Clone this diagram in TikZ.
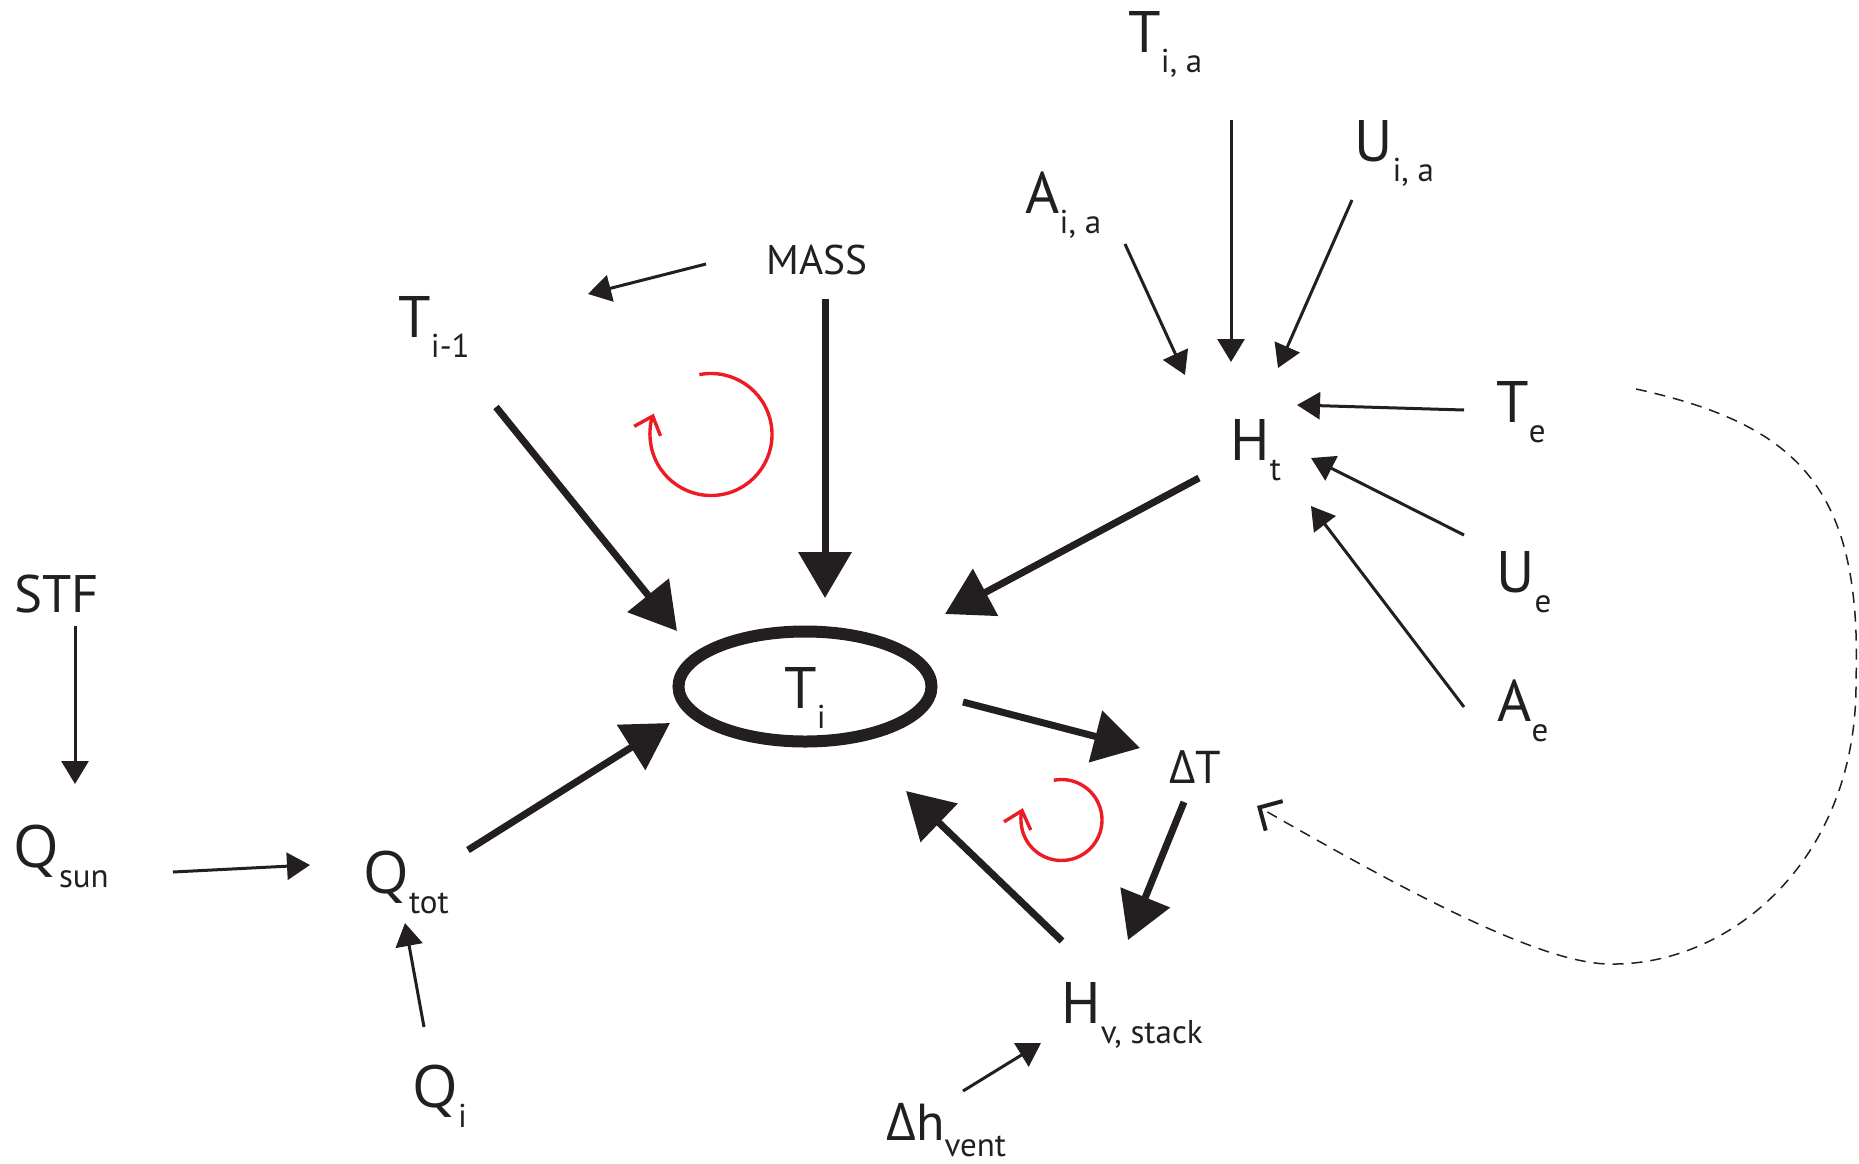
\documentclass[tikz,border=0pt]{standalone}
\usepackage{fontspec}
\setmainfont{PT Sans}
\newfontfamily\grk{Open Sans}
\usetikzlibrary{arrows.meta,shapes.geometric}
\definecolor{ink}{HTML}{231F20}
\definecolor{loopred}{HTML}{ED1C24}
\newcommand{\lb}[2]{{\fontsize{29.3pt}{30pt}\selectfont #1}\raisebox{-10pt}{\fontsize{16.5pt}{17pt}\selectfont #2}}
\newcommand{\qq}{{\grk Q}}
\begin{document}
\begin{tikzpicture}[x=0.5pt,y=-0.5pt,
  lbl/.style={inner sep=0pt, anchor=base west, text=ink},
  thickarrow/.style={color=ink, line width=3.5pt, -{Triangle[length=23pt,width=26pt]}},
  thinarrow/.style={color=ink, line width=1.5pt, -{Triangle[length=11.5pt,width=13.5pt]}},
  fbarrow/.style={color=ink, line width=0.75pt, dash pattern=on 5.5pt off 4pt, -{Straight Barb[length=8.5pt,width=17pt,line width=2pt]}},
  loopring/.style={color=loopred, line width=1.7pt, -{Straight Barb[length=8pt,width=14pt]}},
  tiring/.style={ellipse, draw=ink, line width=6pt, minimum width=126.5pt, minimum height=55pt, inner sep=0pt, text height=21.5pt, text depth=0pt, text=ink}
]
\useasboundingbox (0,0) rectangle (1859,1163);

% labels
\node[lbl] (Tia) at (1128,52) {\lb{T}{i, a}};
\node[lbl] (Uia) at (1354,161) {\lb{U}{i, a}};
\node[lbl] (Aia) at (1025,213) {\lb{A}{i, a}};
\node[lbl] (MASS) at (766,274) {\fontsize{20.7pt}{21pt}\selectfont MASS};
\node[lbl] (Tim1) at (398,337) {\lb{T}{i-1}};
\node[lbl] (Ht) at (1230,460) {\lb{H}{t}};
\node[lbl] (Te) at (1496,422) {\lb{T}{e}};
\node[lbl] (Ue) at (1496,592) {\lb{U}{e}};
\node[lbl] (Ae) at (1497,721) {\lb{A}{e}};
\node[lbl] (STF) at (14,612) {\fontsize{26.4pt}{27pt}\selectfont STF};
\node[tiring] (Ti) at (805,686.5) {\lb{T}{i}};
\node[lbl] (dT) at (1169,783) {\fontsize{23pt}{24pt}\selectfont{\grk Δ}T};
\node[lbl] (Qsun) at (13,867) {\lb{\qq}{sun}};
\node[lbl] (Qtot) at (363,893) {\lb{\qq}{tot}};
\node[lbl] (Qi) at (412,1107) {\lb{\qq}{i}};
\node[lbl] (Hv) at (1061,1023) {\lb{H}{v, stack}};
\node[lbl] (dh) at (886,1140) {{\fontsize{26pt}{27pt}\selectfont{\grk Δ}h}\raisebox{-8pt}{\fontsize{16.5pt}{17pt}\selectfont vent}};

% thick connectors
\draw[thickarrow] ([shift={(98,70)}]Tim1.base west) -- ([shift={(-128,-55.5)}]Ti.center);
\draw[thickarrow] ([shift={(59,25)}]MASS.base west) -- ([shift={(20,-88.5)}]Ti.center);
\draw[thickarrow] ([shift={(-31,18)}]Ht.base west) -- ([shift={(140,-72.5)}]Ti.center);
\draw[thickarrow] ([shift={(105,-43)}]Qtot.base west) -- ([shift={(-135,36.5)}]Ti.center);
\draw[thickarrow] ([shift={(158,15.5)}]Ti.center) -- ([shift={(-29,-35)}]dT.base west);
\draw[thickarrow] ([shift={(15,19)}]dT.base west) -- ([shift={(67,-83)}]Hv.base west);
\draw[thickarrow] ([shift={(1,-82)}]Hv.base west) -- ([shift={(101,104.5)}]Ti.center);

% thin connectors
\draw[thinarrow] ([shift={(-60,-10)}]MASS.base west) -- ([shift={(190,-43)}]Tim1.base west);
\draw[thinarrow] ([shift={(103,68)}]Tia.base west) -- ([shift={(1,-98)}]Ht.base west);
\draw[thinarrow] ([shift={(100,31)}]Aia.base west) -- ([shift={(-45,-85)}]Ht.base west);
\draw[thinarrow] ([shift={(-2,39)}]Uia.base west) -- ([shift={(48,-92)}]Ht.base west);
\draw[thinarrow] ([shift={(-32,-12)}]Te.base west) -- ([shift={(67,-55)}]Ht.base west);
\draw[thinarrow] ([shift={(-32,-57)}]Ue.base west) -- ([shift={(81,-2)}]Ht.base west);
\draw[thinarrow] ([shift={(-33,-14)}]Ae.base west) -- ([shift={(81,46)}]Ht.base west);
\draw[thinarrow] ([shift={(61,14)}]STF.base west) -- ([shift={(62,-83)}]Qsun.base west);
\draw[thinarrow] ([shift={(160,5)}]Qsun.base west) -- ([shift={(-53,-28)}]Qtot.base west);
\draw[thinarrow] ([shift={(12,-80)}]Qi.base west) -- ([shift={(42,30)}]Qtot.base west);
\draw[thinarrow] ([shift={(77,-49)}]dh.base west) -- ([shift={(-20,20)}]Hv.base west);

% dashed feedback
\draw[fbarrow] ([shift={(140,-33)}]Te.base west)
  .. controls (1800,425) and (1862,490) .. (1856,680)
  .. controls (1858,860) and (1730,966) .. (1610,964)
  .. controls (1540,964) and (1400,888) .. ([shift={(88,23)}]dT.base west);

% red loop markers
\draw[loopring] (711,434.5) ++(101:30.5pt) arc[start angle=101, end angle=-200, radius=30.5pt];
\draw[loopring] (1061.5,820) ++(101:20.25pt) arc[start angle=101, end angle=-197, radius=20.25pt];
\end{tikzpicture}
\end{document}
